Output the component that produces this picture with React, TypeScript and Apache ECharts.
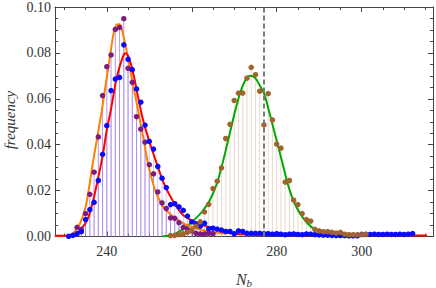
import React, { useEffect, useRef } from "react";
import * as echarts from "echarts";

// ---- axes ----
const X_MIN = 227.8;
const X_MAX = 316.8;
const Y_MIN = 0;
const Y_MAX = 0.1;
const Y_TICK_STEP = 0.02;
const X_MAJOR_TICKS = [240, 260, 280, 300];
const X_MINOR_TICKS = [230, 235, 245, 250, 255, 265, 270, 275, 285, 290, 295, 305, 310, 315];
const DASHED_X = 277;

// ---- purple data (fit: orange) ----
const purpleStart = 233;
const purpleFreq = [
  0.004, 0.0031, 0.01, 0.0184, 0.028, 0.0434, 0.0614, 0.074, 0.0791, 0.0902,
  0.0911, 0.0949, 0.0733, 0.0672, 0.0522, 0.0468, 0.0411, 0.0313, 0.0273, 0.0194,
  0.0146, 0.0122, 0.0081, 0.0079, 0.006, 0.004, 0.0031, 0.0025, 0.0014, 0.0011,
  0.0011, 0.0014, 0.0012,
];

// ---- blue data (fit: red) ----
const blueStart = 231;
const blueFreq = [
  0.0001, 0.0005, 0.0012, 0.0021, 0.0074, 0.0117, 0.0149, 0.0244, 0.0358, 0.0483,
  0.0636, 0.0686, 0.0693, 0.0835, 0.0772, 0.0727, 0.0643, 0.0585, 0.0485, 0.0414,
  0.0381, 0.0305, 0.0254, 0.0213, 0.0139, 0.0143, 0.0129, 0.0114, 0.0089, 0.0064,
  0.0055, 0.0045, 0.0058, 0.0034, 0.0036, 0.0032, 0.0028, 0.0022, 0.0022, 0.0012,
  0.0025, 0.0022, 0.0014, 0.0014, 0.0014, 0.0014, 0.0013, 0.0012, 0.001, 0.0012,
  0.001, 0.0008, 0.001, 0.0011, 0.0009, 0.0008, 0.0011, 0.001, 0.0008, 0.0007,
  0.0006, 0.0006, 0.0005, 0.0004, 0.0004, 0.0004, 0.0003, 0.0003, 0.0003, 0.0009,
  0.0009, 0.0009, 0.001, 0.0009, 0.0009, 0.001, 0.0009, 0.0009, 0.001, 0.0009,
  0.001, 0.0013,
];

// ---- brown data (fit: green) ----
const brownStart = 255;
const brownFreq = [
  0.0004, 0.0005, 0.0008, 0.0012, 0.0018, 0.0028, 0.0045, 0.0064, 0.0107, 0.014,
  0.0209, 0.0241, 0.0299, 0.0427, 0.0489, 0.0593, 0.0625, 0.0625, 0.069, 0.0737,
  0.0705, 0.0633, 0.0486, 0.0623, 0.0508, 0.0403, 0.0385, 0.0237, 0.0244, 0.0158,
  0.0139, 0.01, 0.0074, 0.0067, 0.0031, 0.0025, 0.0021, 0.0021, 0.0018, 0.0015,
  0.0018, 0.001, 0.0008, 0.0008, 0.0008, 0.0008, 0.001,
];

// ---- fitted curves ----
const orangeFit: [number, number][] = [
  [227.8, 0.0001], [229.8, 0.0002], [231.0, 0.0006], [232.1, 0.0014], [233.7, 0.0057],
  [235.0, 0.0129], [235.9, 0.0222], [236.8, 0.033], [237.8, 0.0438], [238.8, 0.0546],
  [239.8, 0.067], [240.8, 0.079], [241.6, 0.0885], [242.4, 0.0924], [243.0, 0.0925],
  [243.5, 0.0906], [244.7, 0.0806], [245.5, 0.0727], [246.3, 0.0647], [247.1, 0.0575],
  [247.8, 0.0505], [248.6, 0.043], [249.8, 0.031], [251.4, 0.0201], [253.3, 0.0129],
  [255.7, 0.0086], [258.0, 0.0057], [261.2, 0.0035], [264.0, 0.0022], [268.2, 0.0012],
];
const redFit: [number, number][] = [
  [227.8, 0.0003], [232.1, 0.0006], [234.1, 0.0035], [235.7, 0.0086], [236.8, 0.0158],
  [238.0, 0.0258], [239.1, 0.036], [240.0, 0.0465], [240.9, 0.0546], [241.6, 0.0619],
  [242.4, 0.0698], [243.8, 0.0784], [244.4, 0.0798], [245.2, 0.078], [246.3, 0.0705],
  [247.4, 0.0604], [248.6, 0.0503], [250.2, 0.0403], [251.8, 0.0316], [253.3, 0.0237],
  [255.7, 0.015], [258.0, 0.0093], [261.2, 0.006], [264.3, 0.004], [267.4, 0.0021],
  [271.4, 0.001], [280.0, 0.0006], [295.0, 0.0004], [315.4, 0.0004],
];
const greenFit: [number, number][] = [
  [253.0, 0.0], [256.0, 0.001], [259.2, 0.005], [261.0, 0.008], [262.5, 0.011],
  [264.3, 0.016], [265.9, 0.023], [267.0, 0.0302], [267.8, 0.036], [269.0, 0.0453],
  [270.2, 0.0546], [271.4, 0.0625], [272.5, 0.0676], [273.7, 0.07], [274.9, 0.0692],
  [276.1, 0.0655], [277.0, 0.0625], [278.0, 0.056], [279.2, 0.0474], [280.4, 0.0388],
  [281.6, 0.0302], [282.7, 0.0222], [283.9, 0.0158], [285.5, 0.01], [287.1, 0.0061],
  [288.6, 0.0035], [290.6, 0.0021], [292.5, 0.0011], [296.0, 0.0005], [303.0, 0.0003],
];

const toPairs = (start: number, vals: number[]) => vals.map((v, i) => [start + i, v]);

export default function App() {
  const ref = useRef<HTMLDivElement>(null);
  useEffect(() => {
    document.body.style.margin = "0";
    const chart = echarts.init(ref.current!, null, { renderer: "svg" });
    const font = "'Liberation Serif', 'DejaVu Serif', serif";
    const axisColor = "#444";
    const purple = toPairs(purpleStart, purpleFreq);
    const blue = toPairs(blueStart, blueFreq);
    const brown = toPairs(brownStart, brownFreq);

    const xBase = (pos: string, showLine: boolean, ticks: number[], len: number, labels: boolean) => ({
      type: "value",
      position: pos,
      min: X_MIN,
      max: X_MAX,
      splitLine: { show: false },
      axisLine: { show: showLine, onZero: false, lineStyle: { color: axisColor, width: 1 } },
      axisTick: { show: true, inside: true, length: len, customValues: ticks, lineStyle: { color: axisColor, width: 1 } },
      axisLabel: labels
        ? { show: true, customValues: ticks, margin: 8, fontFamily: font, fontSize: 14, color: "#333" }
        : { show: false },
    });
    const yBase = (pos: string, labels: boolean) => ({
      type: "value",
      position: pos,
      min: Y_MIN,
      max: Y_MAX,
      interval: Y_TICK_STEP,
      splitLine: { show: false },
      axisLine: { show: true, onZero: false, lineStyle: { color: axisColor, width: 1 } },
      axisTick: { show: true, inside: true, length: 5, lineStyle: { color: axisColor, width: 1 } },
      minorTick: { show: true, splitNumber: 4, length: 3, lineStyle: { color: axisColor, width: 1 } },
      axisLabel: labels
        ? { show: true, margin: 4, fontFamily: font, fontSize: 14, color: "#333", formatter: (v: number) => v.toFixed(2) }
        : { show: false },
    });

    const stem = (data: number[][], color: string) => ({
      type: "bar",
      data,
      barWidth: 1,
      barGap: "-100%",
      itemStyle: { color },
      silent: true,
      z: 1,
    });
    const fit = (data: [number, number][], color: string, extra: any = {}) => ({
      type: "line",
      data,
      smooth: 0.3,
      showSymbol: false,
      lineStyle: { color, width: 2 },
      silent: true,
      z: 3,
      ...extra,
    });
    const dots = (data: number[][], color: string) => ({
      type: "scatter",
      data,
      symbolSize: 5.5,
      itemStyle: { color, opacity: 1 },
      silent: true,
      z: 4,
    });

    chart.setOption({
      animation: false,
      grid: { left: 55, right: 3, top: 4.5, bottom: 51.5, containLabel: false },
      xAxis: [
        xBase("bottom", true, X_MAJOR_TICKS, 5, true),
        xBase("bottom", false, X_MINOR_TICKS, 3, false),
        xBase("top", true, X_MAJOR_TICKS, 5, false),
        xBase("top", false, X_MINOR_TICKS, 3, false),
      ],
      yAxis: [yBase("left", true), yBase("right", false)],
      series: [
        stem(blue, "rgba(170,160,240,0.55)"),
        stem(purple, "rgba(160,120,225,0.75)"),
        stem(brown, "rgba(215,190,160,0.55)"),
        fit(greenFit, "#00a800", {
          markLine: {
            silent: true,
            symbol: "none",
            label: { show: false },
            lineStyle: { color: "#7a7a7a", type: [5, 3], width: 2, opacity: 1 },
            data: [{ xAxis: DASHED_X }],
          },
        }),
        fit(orangeFit, "#ff8000"),
        fit(redFit, "#ff0000"),
        dots(purple, "#7d1c7d"),
        dots(blue, "#0a0aff"),
        dots(brown, "#a0642d"),
      ],
      graphic: [
        {
          type: "text",
          x: 10,
          y: 120,
          rotation: Math.PI / 2,
          style: {
            text: "frequency",
            font: `italic 15px ${font}`,
            fill: "#333",
            align: "center",
            verticalAlign: "middle",
          },
        },
        {
          type: "text",
          x: 244,
          y: 279,
          style: {
            text: "{n|N}{b|b}",
            align: "center",
            verticalAlign: "middle",
            rich: {
              n: { fontFamily: font, fontStyle: "italic", fontSize: 16, fill: "#333" },
              b: { fontFamily: font, fontStyle: "italic", fontSize: 11, fill: "#333", padding: [8, 0, 0, 0] },
            },
          },
        },
      ],
    });
    return () => chart.dispose();
  }, []);
  return <div ref={ref} style={{ width: 436, height: 288 }} />;
}
